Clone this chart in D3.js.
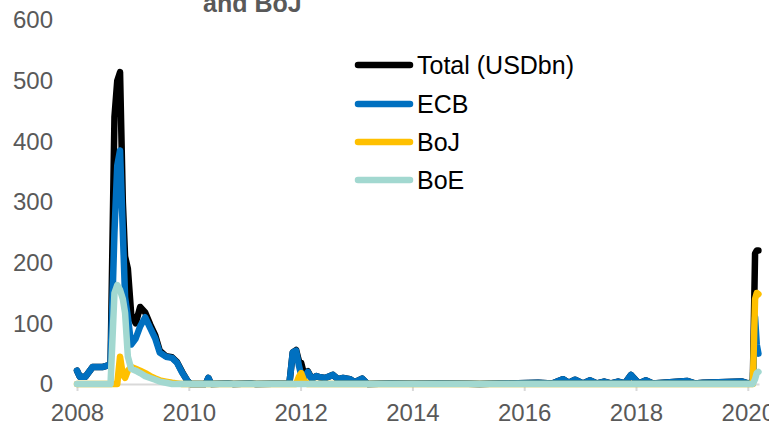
<!DOCTYPE html>
<html>
<head>
<meta charset="utf-8">
<script src="https://cdn.jsdelivr.net/npm/d3@7"></script>
<style>
  body { margin: 0; background: #fff; }
  text { font-family: "Liberation Sans", Arial, sans-serif; }
</style>
</head>
<body>
<svg id="chart"></svg>
<script>
// data (decimal years, USD bn)
const dates = [2008.00, 2008.05, 2008.15, 2008.20, 2008.28, 2008.45, 2008.60, 2008.67, 2008.72, 2008.77,
  2008.82, 2008.86, 2008.91, 2008.97, 2009.05, 2009.13, 2009.22, 2009.31, 2009.40, 2009.48,
  2009.59, 2009.70, 2009.79, 2009.88, 2009.97, 2010.03, 2010.30, 2010.35, 2010.40, 2010.70,
  2010.80, 2011.10, 2011.20, 2011.80, 2011.86, 2011.92, 2011.97, 2012.01, 2012.06, 2012.13,
  2012.20, 2012.28, 2012.35, 2012.44, 2012.58, 2012.67, 2012.76, 2012.88, 2012.97, 2013.10,
  2013.20, 2013.60, 2014.00, 2014.50, 2015.00, 2015.20, 2016.25, 2016.50, 2016.69, 2016.80,
  2016.91, 2017.05, 2017.18, 2017.30, 2017.43, 2017.55, 2017.68, 2017.80, 2017.91, 2018.05,
  2018.18, 2018.30, 2018.91, 2019.05, 2019.20, 2019.90, 2020.00, 2020.09, 2020.13, 2020.16,
  2020.19];

const ecb = [22, 12, 12, 18, 28, 28, 32, 250, 360, 385,
  250, 143, 110, 65, 75, 95, 110, 92, 75, 52,
  45, 43, 35, 19, 6, 0, 0, 10, 0, 1,
  0, 1, 0, 1, 52, 55, 30, 15, 10, 20,
  8, 13, 11, 10, 15, 8, 10, 8, 3, 9,
  0, 1, 0.5, 1, 0.5, 0, 2, 1, 8, 2,
  7, 1, 6, 1, 4, 1, 4, 1, 15, 1,
  6, 1, 5, 1, 2, 4, 1, 2, 110, 65,
  50];

const boj = [0, 0, 0, 0, 0, 0, 0, 0, 0, 45,
  15, 10, 22, 28, 25, 22, 18, 13, 9, 6,
  4, 2, 1, 0, 0, 0, 0, 0, 0, 0,
  0, 0, 0, 0, 0, 0, 12, 18, 6, 0,
  0, 0, 0, 0, 0, 0, 0, 0, 0, 0,
  0, 0, 0, 0, 0, 0, 0, 0, 0, 0,
  0, 0, 0, 0, 0, 0, 0, 0, 0, 0,
  0, 0, 0, 0, 0, 0, 0, 0, 140, 150,
  148];

const boe = [0, 0, 0, 0, 0, 0, 0, 150, 163, 155,
  140, 117, 45, 25, 22, 18, 13, 10, 7, 4,
  2, 0, 0, 0, 0, 0, 0, 0, 0, 0,
  0, 0, 0, 0, 0, 0, 0, 0, 0, 0,
  0, 0, 0, 0, 0, 0, 0, 0, 0, 0,
  0, 0, 0, 0, 0, 0, 0, 0, 0, 0,
  0, 0, 0, 0, 0, 0, 0, 0, 0, 0,
  0, 0, 0, 0, 0, 0, 0, 0, 8, 18,
  20];

const total = [22, 12, 12, 18, 28, 28, 32, 440, 500, 514,
  300, 210, 190, 115, 100, 127, 118, 98, 80, 55,
  46, 44, 36, 20, 6, 0, 0, 10, 0, 1,
  0, 1, 0, 1, 52, 56, 38, 35, 17, 21,
  9, 13, 11, 10, 15, 8, 10, 8, 3, 9,
  0, 1, 0.5, 1, 0.5, 0, 2, 1, 8, 2,
  7, 1, 6, 1, 4, 1, 4, 1, 15, 1,
  6, 1, 5, 1, 2, 4, 1, 3, 215, 220,
  220];

const seriesNames = ["Total (USDbn)", "ECB", "BoJ", "BoE"];
const seriesColors = ["#000000", "#0070C0", "#FFC000", "#A2D8D0"];
const yTicks = [0, 100, 200, 300, 400, 500, 600];
const xTicks = [2008, 2010, 2012, 2014, 2016, 2018, 2020];

// set the dimensions and margins of the graph
let margin = {top: 20, right: 10, bottom: 44, left: 77},
    width = 769 - margin.left - margin.right,
    height = 428 - margin.top - margin.bottom;

// set the ranges
const x = d3.scaleLinear()
    .domain([2008, 2020.2])
    .range([0, 12.2 * 55.9]);

const y = d3.scaleLinear()
    .domain([0, 600])
    .range([height, 0]);

let svg = d3.select("#chart")
    .attr("width", width + margin.left + margin.right)
    .attr("height", height + margin.top + margin.bottom);

svg.append("rect")
    .attr("width", 769)
    .attr("height", 428)
    .attr("fill", "#fff");

// clipped title line
svg.append("text")
    .attr("x", 203)
    .attr("y", 12)
    .attr("font-size", 25)
    .attr("font-weight", "bold")
    .attr("fill", "#595959")
    .text("and BoJ");

let g = svg.append("g")
    .attr("transform", "translate(" + margin.left + "," + margin.top + ")");

// y axis, labels only
let yAxis = g.append("g")
    .call(d3.axisLeft(y).tickValues(yTicks).tickSize(0).tickPadding(24));
yAxis.select(".domain").remove();
yAxis.selectAll("text")
    .attr("font-size", 24)
    .attr("font-family", "Liberation Sans, Arial, sans-serif")
    .attr("fill", "#595959");

// x axis
let xAxis = g.append("g")
    .attr("transform", "translate(0," + height + ")")
    .call(d3.axisBottom(x).tickValues(xTicks).tickFormat(d3.format("d"))
        .tickSize(7).tickSizeOuter(0).tickPadding(13));
xAxis.select(".domain").attr("stroke", "#d9d9d9").attr("stroke-width", 2);
xAxis.selectAll(".tick line").attr("stroke", "#d9d9d9").attr("stroke-width", 2);
xAxis.selectAll("text")
    .attr("font-size", 24)
    .attr("font-family", "Liberation Sans, Arial, sans-serif")
    .attr("fill", "#595959");

// lines
const allSeries = [total, ecb, boj, boe];
const line = d3.line()
    .x(function (d, i) { return x(dates[i]); })
    .y(function (d) { return y(d); });

allSeries.forEach(function (s, k) {
    g.append("path")
        .datum(s)
        .attr("fill", "none")
        .attr("stroke", seriesColors[k])
        .attr("stroke-width", 6.5)
        .attr("stroke-linejoin", "round")
        .attr("stroke-linecap", "round")
        .attr("d", line);
});

// legend
let legend = svg.append("g");
const legendY = [65, 104, 142, 180];
seriesNames.forEach(function (name, k) {
    legend.append("line")
        .attr("x1", 358).attr("x2", 410)
        .attr("y1", legendY[k]).attr("y2", legendY[k])
        .attr("stroke", seriesColors[k])
        .attr("stroke-width", 6.5)
        .attr("stroke-linecap", "round");
    legend.append("text")
        .attr("x", 417)
        .attr("y", legendY[k])
        .attr("dy", "0.35em")
        .attr("font-size", 25)
        .attr("fill", "#000")
        .text(name);
});
</script>
</body>
</html>
